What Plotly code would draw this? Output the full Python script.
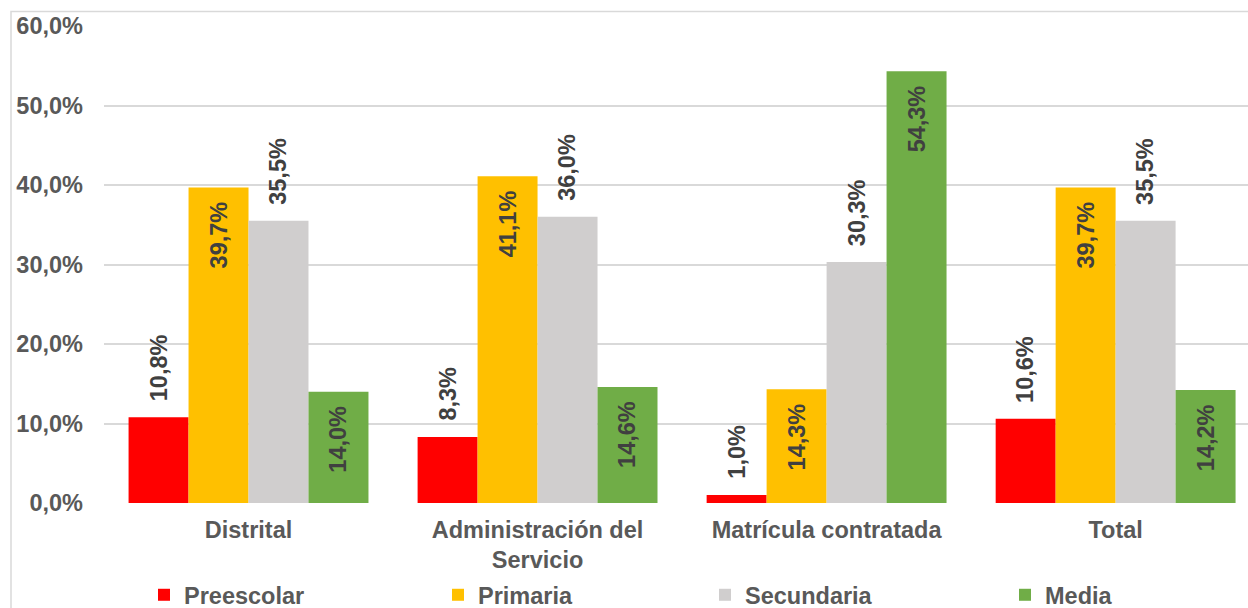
import plotly.graph_objects as go

categories = ["Distrital", "Administración del<br>Servicio", "Matrícula contratada", "Total"]
series_names = ["Preescolar", "Primaria", "Secundaria", "Media"]
preescolar = [10.8, 8.3, 1.0, 10.6]
primaria = [39.7, 41.1, 14.3, 39.7]
secundaria = [35.5, 36.0, 30.3, 35.5]
media = [14.0, 14.6, 54.3, 14.2]
y_tickvals = [0, 10, 20, 30, 40, 50, 60]
y_ticktext = ["0,0%", "10,0%", "20,0%", "30,0%", "40,0%", "50,0%", "60,0%"]

series_values = [preescolar, primaria, secundaria, media]
colors = ["#FF0000", "#FFC000", "#D0CECE", "#70AD47"]
label_inside = [False, True, False, True]

W, H = 1248, 608
ML, MR, MT, MB = 104, 0, 26, 105
plot_w = W - ML - MR
plot_h = H - MT - MB
FONT = "Liberation Sans"
FS = 23.5

fig = go.Figure()
legend_ids = ["legend", "legend2", "legend3", "legend4"]
for name, vals, col, lg in zip(series_names, series_values, colors, legend_ids):
    fig.add_trace(go.Bar(x=categories, y=vals, name=name, marker=dict(color=col, line=dict(width=0)),
                         legend=lg, showlegend=True, hoverinfo="skip"))

# data labels
unit_px = plot_w / 3.958
group_px = unit_px * (1 - 0.17)
bar_px = group_px / 4
annotations = []
for i, (vals, inside) in enumerate(zip(series_values, label_inside)):
    for c, v in zip(categories, vals):
        txt = f"{v:.1f}".replace(".", ",") + "%"
        annotations.append(dict(
            x=c, y=v, xref="x", yref="y", text=txt, showarrow=False, textangle=-90,
            xshift=(i - 1.5) * bar_px,
            yanchor="top" if inside else "bottom",
            yshift=-12 if inside else 14,
            font=dict(family=FONT, size=FS, color="#404040", weight="bold"),
        ))

# legend positions (text start px)
legend_text_px = [184, 478, 745, 1045]
legend_layout = {}
for lg, tx in zip(legend_ids, legend_text_px):
    legend_layout[lg] = dict(
        xref="container", yref="container",
        x=(tx - 40) / W, y=(H - 595) / H, xanchor="left", yanchor="middle",
        orientation="h", bgcolor="rgba(0,0,0,0)", borderwidth=0,
        font=dict(family=FONT, size=FS, color="#595959", weight="bold"),
    )

fig.update_layout(
    width=W, height=H,
    showlegend=True,
    margin=dict(l=ML, r=MR, t=MT, b=MB, pad=0, autoexpand=False),
    paper_bgcolor="white", plot_bgcolor="white",
    barmode="group", bargap=0.17, bargroupgap=0,
    annotations=annotations,
    font=dict(family=FONT, size=FS, color="#595959"),
    shapes=[dict(type="rect", xref="paper", yref="paper",
                 x0=(11 - ML) / plot_w, x1=1.05,
                 y0=-0.4, y1=(H - MB - 11.5) / plot_h,
                 line=dict(color="#D9D9D9", width=1.5), fillcolor="rgba(0,0,0,0)", layer="below")],
    **legend_layout,
)
fig.update_xaxes(range=[-0.5, 3.458], showgrid=False, showline=False, ticks="", zeroline=False,
                 automargin=False,
                 tickfont=dict(family=FONT, size=FS, color="#595959", weight="bold"),
                 ticklabelstandoff=10)
fig.update_yaxes(range=[0, 60], tickvals=y_tickvals, ticktext=y_ticktext, showgrid=True,
                 automargin=False,
                 gridcolor="#D9D9D9", gridwidth=1.5, zeroline=False, showline=False, ticks="",
                 tickfont=dict(family=FONT, size=FS, color="#595959", weight="bold"),
                 ticklabelstandoff=20)

fig.write_html("out.html", config={"displayModeBar": False},
               post_script="document.body.style.margin='0px';document.body.style.overflow='hidden';")
